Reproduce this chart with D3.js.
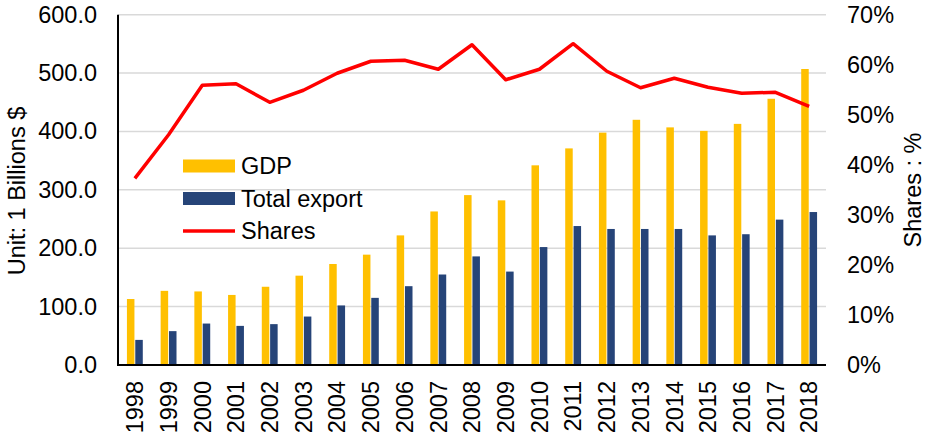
<!DOCTYPE html>
<html>
<head>
	<title> GDP and export </title>
	<script src="https://d3js.org/d3.v7.min.js"></script>
	<style>
		body { margin: 0; background: #fff; }
		text { font-family: "Liberation Sans", Arial, sans-serif; fill: #000; }
	</style>
</head>
<body>
	<svg width="926" height="435"></svg>
	<script type="text/javascript">
		let years = ["1998","1999","2000","2001","2002","2003","2004","2005","2006","2007",
				"2008","2009","2010","2011","2012","2013","2014","2015","2016","2017","2018"];
		let gdp = [113, 127, 126, 120, 134, 153, 173, 189, 222, 263,
				291, 282, 342, 371, 398, 420, 407, 401, 413, 456, 507];
		let exportVals = [43, 58, 71, 67, 70, 83, 102, 115, 135, 155,
				186, 160, 202, 238, 233, 233, 233, 222, 224, 249, 262];
		let shares = [37.3, 46.0, 55.9, 56.2, 52.5, 54.9, 58.3, 60.7, 60.9, 59.1,
				64.0, 57.0, 59.1, 64.2, 58.7, 55.4, 57.3, 55.5, 54.3, 54.5, 51.7];
		let leftTicks = [0, 100, 200, 300, 400, 500, 600];
		let rightTicks = [0, 10, 20, 30, 40, 50, 60, 70];
		let seriesNames = ["GDP", "Total export", "Shares"];
		let colors = { "GDP": "#FFC000", "Total export": "#264478", "Shares": "#FF0000" };
		let fontSize = "23.5px";

		let svg = d3.select("svg");
		let plotLeft = 118, plotRight = 826, plotTop = 14.7, plotBottom = 365;

		let x = d3.scaleBand().domain(years).range([plotLeft, plotRight]).paddingInner(0.48).paddingOuter(0.24);
		let x1 = d3.scaleBand().domain(["GDP", "Total export"]).range([0, x.bandwidth()]).padding(0.1);
		let y = d3.scaleLinear().domain([0, 600]).range([plotBottom, plotTop]);
		let y2 = d3.scaleLinear().domain([0, 70]).range([plotBottom, plotTop]);

		// gridlines
		svg.append("g").selectAll("line").data(leftTicks.slice(1)).enter().append("line")
			.attr("x1", plotLeft).attr("x2", plotRight)
			.attr("y1", d => y(d)).attr("y2", d => y(d))
			.style("stroke", "#d9d9d9").style("stroke-width", 1.5);

		// bars
		let groups = svg.append("g").selectAll("g").data(years).enter().append("g")
			.attr("transform", d => "translate(" + x(d) + ",0)");
		groups.append("rect")
			.attr("x", x1("GDP")).attr("width", x1.bandwidth())
			.attr("y", (d, i) => y(gdp[i])).attr("height", (d, i) => plotBottom - y(gdp[i]))
			.attr("fill", colors["GDP"]);
		groups.append("rect")
			.attr("x", x1("Total export")).attr("width", x1.bandwidth())
			.attr("y", (d, i) => y(exportVals[i])).attr("height", (d, i) => plotBottom - y(exportVals[i]))
			.attr("fill", colors["Total export"]);

		// shares line
		let line = d3.line()
			.x((d, i) => x(years[i]) + x.bandwidth() / 2)
			.y(d => y2(d));
		svg.append("path").datum(shares)
			.attr("d", line)
			.attr("fill", "none")
			.style("stroke", colors["Shares"])
			.style("stroke-width", 3.5)
			.style("stroke-linejoin", "round");

		// axes
		let yAxis = d3.axisLeft(y).tickValues(leftTicks).tickFormat(d3.format(".1f")).tickSize(0).tickPadding(21);
		let gy = svg.append("g").attr("transform", "translate(" + plotLeft + ",0)").call(yAxis);
		gy.select(".domain").remove();
		gy.selectAll("text").style("font-size", fontSize).style("font-family", "Liberation Sans, Arial, sans-serif");

		let y2Axis = d3.axisRight(y2).tickValues(rightTicks).tickFormat(d => d + "%").tickSize(0).tickPadding(21);
		let gy2 = svg.append("g").attr("transform", "translate(" + plotRight + ",0)").call(y2Axis);
		gy2.select(".domain").remove();
		gy2.selectAll("text").style("font-size", fontSize).style("font-family", "Liberation Sans, Arial, sans-serif");

		let xAxis = d3.axisBottom(x).tickSize(0).tickPadding(0);
		let gx = svg.append("g").attr("transform", "translate(0," + plotBottom + ")").call(xAxis);
		gx.select(".domain").remove();
		gx.selectAll("text")
			.style("font-size", fontSize).style("font-family", "Liberation Sans, Arial, sans-serif")
			.attr("transform", "rotate(-90)")
			.attr("text-anchor", "end")
			.attr("x", -16).attr("y", 0).attr("dy", "0.35em");

		svg.append("line").attr("x1", plotLeft).attr("x2", plotLeft).attr("y1", plotTop).attr("y2", plotBottom + 1)
			.style("stroke", "#000").style("stroke-width", 2);
		svg.append("line").attr("x1", plotLeft - 1).attr("x2", plotRight).attr("y1", plotBottom).attr("y2", plotBottom)
			.style("stroke", "#000").style("stroke-width", 2);

		// axis titles
		svg.append("text").attr("transform", "translate(25,191) rotate(-90)")
			.attr("text-anchor", "middle").style("font-size", fontSize).text("Unit: 1 Billions $");
		svg.append("text").attr("transform", "translate(921,190) rotate(-90)")
			.attr("text-anchor", "middle").style("font-size", fontSize).text("Shares : %");

		// legend
		let legend = svg.append("g").attr("transform", "translate(183,166)");
		let rows = legend.selectAll("g").data(seriesNames).enter().append("g")
			.attr("transform", (d, i) => "translate(0," + (i * 32.5) + ")");
		rows.filter(d => d != "Shares").append("rect")
			.attr("x", 0).attr("y", -6.5).attr("width", 52).attr("height", 13)
			.attr("fill", d => colors[d]);
		rows.filter(d => d == "Shares").append("line")
			.attr("x1", 0).attr("x2", 52).attr("y1", 0).attr("y2", 0)
			.style("stroke", d => colors[d]).style("stroke-width", 3.5);
		rows.append("text").attr("x", 58).attr("dy", "0.35em")
			.style("font-size", fontSize).text(d => d);
	</script>
</body>
</html>
